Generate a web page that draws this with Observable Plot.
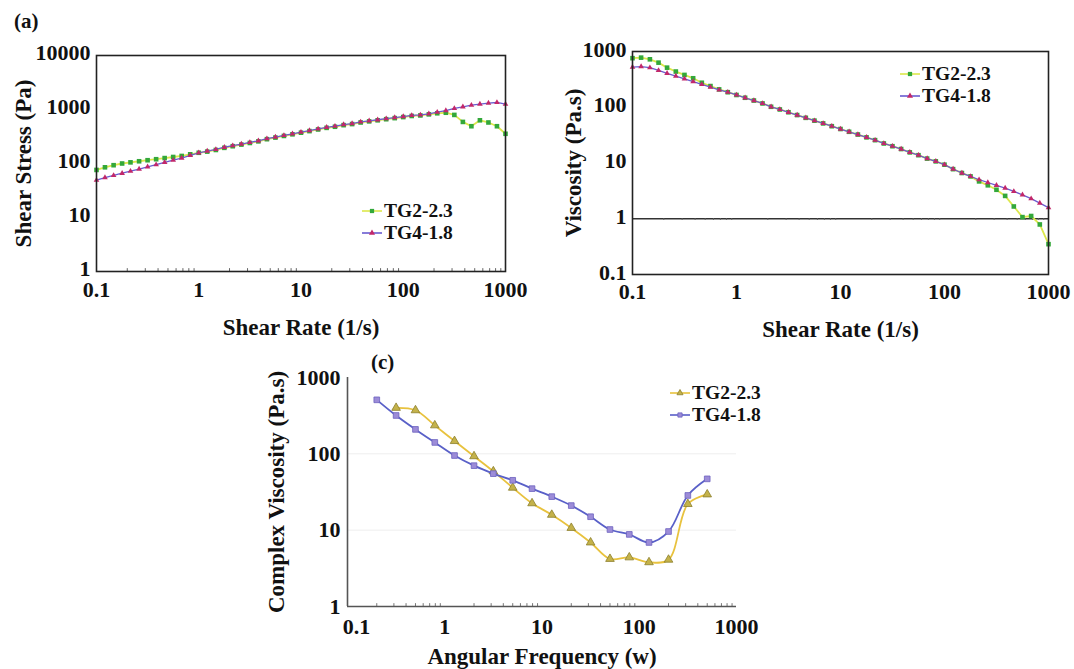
<!DOCTYPE html>
<html><head><meta charset="utf-8">
<script src="https://cdn.jsdelivr.net/npm/d3@7"></script>
<script src="https://cdn.jsdelivr.net/npm/@observablehq/plot@0.6"></script>
<style>
body{margin:0;background:#fff;}
#fig{position:relative;width:1074px;height:669px;overflow:hidden;font-family:'Liberation Serif', 'DejaVu Serif', serif;font-weight:bold;color:#111;}
.panel{position:absolute;}
.tag{position:absolute;font-size:21px;font-weight:bold;line-height:22px;}
.legend{position:absolute;}
.legend .row{display:flex;align-items:center;white-space:nowrap;overflow:visible;}
.legend .row span{display:inline-block;overflow:visible;}
.legend svg{margin-right:2px;flex:none;}
</style></head><body><div id="fig"></div>
<script>
// ---------- data ----------
const shearRate = [0.1,0.121,0.147,0.178,0.215,0.261,0.316,0.383,0.464,0.562,0.681,0.825,
  1,1.21,1.47,1.78,2.15,2.61,3.16,3.83,4.64,5.62,6.81,8.25,
  10,12.1,14.7,17.8,21.5,26.1,31.6,38.3,46.4,56.2,68.1,82.5,
  100,121,147,178,215,261,316,383,464,562,681,825,1000];
const stressTG2 = [76,85,93,100,105,110,115,120,126,132,138,148,
  158,166,178,195,209,224,240,257,282,302,324,347,
  372,398,427,457,479,513,537,575,603,631,661,692,
  724,759,776,813,851,871,794,589,490,631,575,490,355];
const stressTG4 = [49,55,60,66,72,79,87,95,105,115,126,141,
  158,170,182,200,214,229,245,263,288,309,331,355,
  380,407,437,468,490,525,550,589,617,646,676,708,
  741,776,794,832,891,955,1047,1122,1202,1259,1318,1349,1259];
const viscTG2 = [759,776,724,631,513,437,380,331,275,240,209,186,
  166,148,132,117,102,91.2,81.3,72.4,64.6,57.5,51.3,45.7,
  40.7,36.3,32.4,28.8,25.7,22.4,20.0,17.8,15.5,13.8,12.0,10.7,
  9.33,7.76,6.61,5.75,4.68,3.98,3.31,2.57,1.66,1.07,1.12,0.79,0.35];
const viscTG4 = [525,537,513,457,407,363,324,288,257,229,204,186,
  166,148,132,117,102,91.2,81.3,72.4,64.6,57.5,51.3,45.7,
  40.7,36.3,32.4,28.8,25.7,22.4,20.0,17.8,15.5,13.8,12.0,10.7,
  9.33,7.76,6.61,5.75,5.01,4.47,3.98,3.55,3.09,2.69,2.29,1.91,1.58];

const freqTG2 = [0.316,0.5,0.79,1.26,2,3.16,5,7.9,12.6,20,31.6,50,79,126,200,316,500];
const cvTG2   = [400,372,236,147,93,59,36,22.5,15.9,10.7,6.9,4.2,4.4,3.8,4.1,22,29.4];
const freqTG4 = [0.2,0.316,0.5,0.79,1.26,2,3.16,5,7.9,12.6,20,31.6,50,79,126,200,316,500];
const cvTG4   = [510,318,209,141,95,70,55,45,35,27.5,21,15,10.2,8.8,6.9,9.6,28.5,47];

const seriesNames = ["TG2-2.3","TG4-1.8"];
const xTicks = [0.1,1,10,100,1000];
const yTicksA = [1,10,100,1000,10000];
const yTicksB = [0.1,1,10,100,1000];
const yTicksC = [1,10,100,1000];
const minorTicks = [0.2,0.3,0.4,0.5,0.6,0.7,0.8,0.9,2,3,4,5,6,7,8,9,
  20,30,40,50,60,70,80,90,200,300,400,500,600,700,800,900];

// ---------- styles ----------
const C = {
  g2line:"#dde84c", g2dot:"#33a83a",
  g4line:"#6a5cd0", g4dot:"#c2286a",
  c2line:"#e8c23e", c2dot:"#c4b24a", c2stroke:"#8c7f2c",
  c4line:"#5960c8", c4dot:"#9c8cd8", c4stroke:"#6c62bf"
};
const FONT = "'Liberation Serif', 'DejaVu Serif', serif";
const TICK = 22, TITLE = 23;
const fmt = d => String(d);
const baseStyle = {fontFamily:FONT, fontWeight:"bold", fontSize:TICK+"px", color:"#111", background:"transparent", overflow:"visible"};

const rowsAB = shearRate.map((r,i)=>({rate:r, s2:stressTG2[i], s4:stressTG4[i], v2:viscTG2[i], v4:viscTG4[i]}));
const rowsC2 = freqTG2.map((f,i)=>({f, v:cvTG2[i]}));
const rowsC4 = freqTG4.map((f,i)=>({f, v:cvTG4[i]}));

const fig = document.getElementById("fig");
function place(el, left, top){
  const d = document.createElement("div");
  d.className = "panel"; d.style.left = left+"px"; d.style.top = top+"px";
  d.appendChild(el); fig.appendChild(d); return d;
}
function xTitle(text, offset){
  return Plot.axisX({ticks:[], tickSize:0, fontSize:TITLE, label:text, labelAnchor:"center", labelOffset:offset, labelArrow:"none"});
}
function yTitle(text, offset){
  return Plot.axisY({ticks:[], tickSize:0, fontSize:TITLE, label:text, labelAnchor:"center", labelOffset:offset, labelArrow:"none"});
}

// ---------- panel (a) ----------
const plotA = Plot.plot({
  width:540, height:345, marginTop:55, marginLeft:96, marginRight:35, marginBottom:74,
  style:baseStyle,
  x:{type:"log", domain:[0.1,1000]},
  y:{type:"log", domain:[1,10000]},
  marks:[
    Plot.ruleX(minorTicks, {x:d=>d, y1:1, y2:1.13, stroke:"#666", strokeWidth:1}),
    Plot.line(rowsAB, {x:"rate", y:"s2", stroke:C.g2line, strokeWidth:1.8}),
    Plot.dot(rowsAB, {x:"rate", y:"s2", symbol:"square", r:2.6, fill:C.g2dot}),
    Plot.line(rowsAB, {x:"rate", y:"s4", stroke:C.g4line, strokeWidth:1.3}),
    Plot.dot(rowsAB, {x:"rate", y:"s4", symbol:"triangle", r:2.1, fill:C.g4dot}),
    Plot.frame({stroke:"#222", strokeWidth:1.6}),
    Plot.axisX({ticks:xTicks, tickFormat:fmt, tickSize:0, tickPadding:10, fontSize:TICK, label:null}),
    Plot.axisY({ticks:yTicksA, tickFormat:fmt, tickSize:0, tickPadding:6, fontSize:TICK, dy:-3, label:null}),
    xTitle("Shear Rate (1/s)", 63),
    yTitle("Shear Stress (Pa)", 82)
  ]
});
place(plotA, 0, 0);

// ---------- panel (b) ----------
const plotB = Plot.plot({
  width:534, height:345, marginTop:51, marginLeft:92, marginRight:26, marginBottom:71,
  style:baseStyle,
  x:{type:"log", domain:[0.1,1000]},
  y:{type:"log", domain:[0.1,1000]},
  marks:[
    Plot.ruleY([1], {stroke:"#333", strokeWidth:1.3}),
    Plot.ruleX(minorTicks, {x:d=>d, y1:0.93, y2:1, stroke:"#666", strokeWidth:1}),
    Plot.line(rowsAB, {x:"rate", y:"v2", stroke:C.g2line, strokeWidth:1.8}),
    Plot.dot(rowsAB, {x:"rate", y:"v2", symbol:"square", r:2.6, fill:C.g2dot}),
    Plot.line(rowsAB, {x:"rate", y:"v4", stroke:C.g4line, strokeWidth:1.3}),
    Plot.dot(rowsAB, {x:"rate", y:"v4", symbol:"triangle", r:2.1, fill:C.g4dot}),
    Plot.frame({stroke:"#222", strokeWidth:1.6}),
    Plot.axisX({ticks:xTicks, tickFormat:fmt, tickSize:0, tickPadding:9, fontSize:TICK, label:null}),
    Plot.axisY({ticks:yTicksB, tickFormat:fmt, tickSize:0, tickPadding:6, fontSize:TICK, dy:-2, label:null}),
    xTitle("Shear Rate (1/s)", 62),
    yTitle("Viscosity (Pa.s)", 68)
  ]
});
place(plotB, 540, 0);

// ---------- panel (c) ----------
const plotC = Plot.plot({
  width:560, height:329, marginTop:37, marginLeft:97, marginRight:74, marginBottom:63,
  style:baseStyle,
  x:{type:"log", domain:[0.1,1000]},
  y:{type:"log", domain:[1,1000]},
  marks:[
    Plot.ruleY([10,100], {stroke:"#eeeeee", strokeWidth:1}),
    Plot.ruleX(minorTicks, {x:d=>d, y1:1, y2:1.09, stroke:"#777", strokeWidth:1}),
    Plot.ruleX([0.1], {stroke:"#555", strokeWidth:1.6}),
    Plot.ruleY([1], {stroke:"#555", strokeWidth:1.6}),
    Plot.line(rowsC2, {x:"f", y:"v", stroke:C.c2line, strokeWidth:1.8, curve:"catmull-rom"}),
    Plot.dot(rowsC2, {x:"f", y:"v", symbol:"triangle", r:3.2, fill:C.c2dot, stroke:C.c2stroke, strokeWidth:0.8}),
    Plot.line(rowsC4, {x:"f", y:"v", stroke:C.c4line, strokeWidth:1.8, curve:"catmull-rom"}),
    Plot.dot(rowsC4, {x:"f", y:"v", symbol:"square", r:3.2, fill:C.c4dot, stroke:C.c4stroke, strokeWidth:0.8}),
    Plot.axisX({ticks:xTicks.slice(0,1), tickFormat:fmt, tickSize:0, tickPadding:12, fontSize:TICK, dx:9, label:null}),
    Plot.axisX({ticks:xTicks.slice(1), tickFormat:fmt, tickSize:0, tickPadding:12, fontSize:TICK, label:null}),
    Plot.axisY({ticks:yTicksC, tickFormat:fmt, tickSize:0, tickPadding:7, fontSize:TICK, label:null}),
    xTitle("Angular Frequency (w)", 57),
    yTitle("Complex Viscosity (Pa.s)", 80)
  ]
});
place(plotC, 250, 340);

// ---------- tags ----------
function tag(txt, left, top){
  const d = document.createElement("div"); d.className="tag";
  d.style.left=left+"px"; d.style.top=top+"px"; d.textContent=txt; fig.appendChild(d);
}
tag("(a)", 14, 10);
tag("(c)", 371, 351);

// ---------- legends ----------
function swatch(line, dot, sym, stroke){
  const s = d3.create("svg").attr("width",20).attr("height",12);
  s.append("line").attr("x1",0).attr("x2",20).attr("y1",6).attr("y2",6).attr("stroke",line).attr("stroke-width",1.6);
  const p = sym === "square" ? d3.symbol(d3.symbolSquare, 18)() : d3.symbol(d3.symbolTriangle, 16)();
  s.append("path").attr("d",p).attr("transform","translate(10,6)").attr("fill",dot).attr("stroke",stroke||"none").attr("stroke-width",0.8);
  return s.node();
}
function legend(left, top, items, fontSize, lh){
  const d = document.createElement("div"); d.className="legend";
  d.style.left=left+"px"; d.style.top=top+"px"; d.style.fontSize=fontSize+"px";
  items.forEach(it=>{
    const r = document.createElement("div"); r.className="row";
    r.style.height=lh+"px"; r.style.lineHeight=lh+"px";
    r.appendChild(swatch(it.line, it.dot, it.sym, it.stroke));
    const t = document.createElement("span"); t.textContent = it.name;
    t.style.height=lh+"px"; t.style.lineHeight=lh+"px";
    r.appendChild(t);
    d.appendChild(r);
  });
  fig.appendChild(d);
}
legend(362, 200, [
  {name:seriesNames[0], line:C.g2line, dot:C.g2dot, sym:"square"},
  {name:seriesNames[1], line:C.g4line, dot:C.g4dot, sym:"triangle"}], 19.5, 22);
legend(900, 63, [
  {name:seriesNames[0], line:C.g2line, dot:C.g2dot, sym:"square"},
  {name:seriesNames[1], line:C.g4line, dot:C.g4dot, sym:"triangle"}], 19.5, 22);
legend(670, 382, [
  {name:seriesNames[0], line:C.c2line, dot:C.c2dot, sym:"triangle", stroke:C.c2stroke},
  {name:seriesNames[1], line:C.c4line, dot:C.c4dot, sym:"square", stroke:C.c4stroke}], 19.5, 22);
</script></body></html>
